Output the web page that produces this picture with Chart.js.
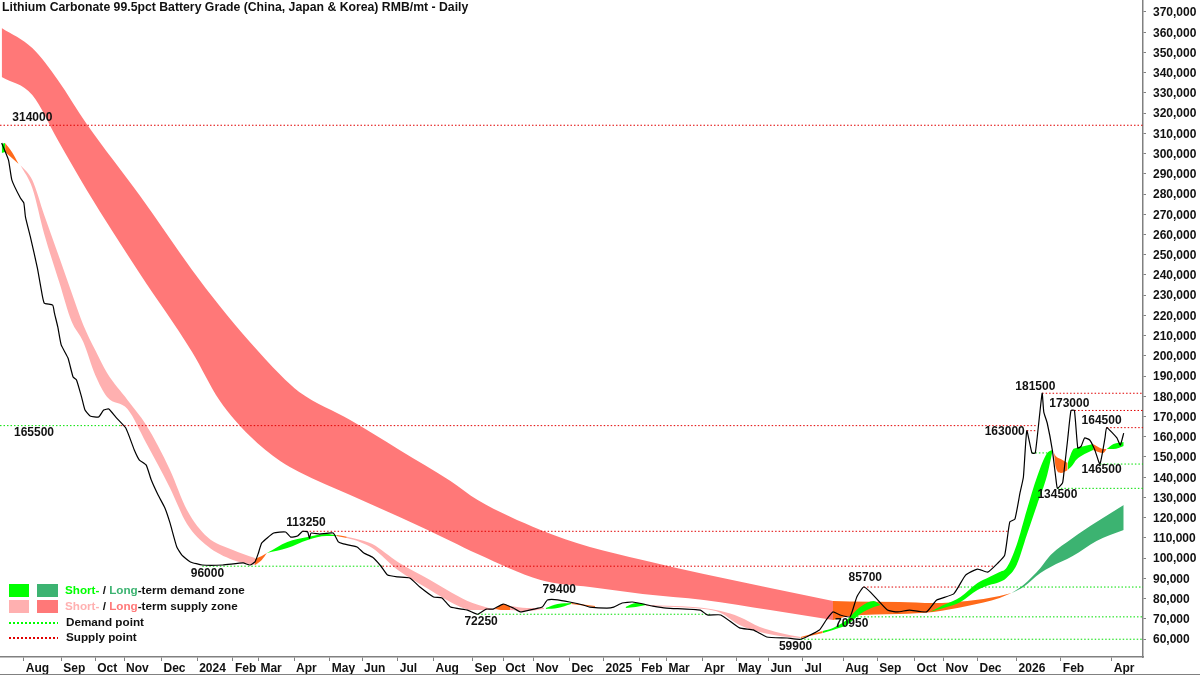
<!DOCTYPE html>
<html>
<head>
<meta charset="utf-8">
<title>Lithium Carbonate</title>
<script src="https://cdn.jsdelivr.net/npm/chart.js@4/dist/chart.umd.min.js"></script>
<style>
  html, body { margin: 0; padding: 0; background: #fff; }
  canvas { display: block; }
</style>
</head>
<body>
<canvas id="lithiumChart" width="1200" height="675"></canvas>
<script>
// x is the trading session number, y is RMB/mt
const titleText = 'Lithium Carbonate 99.5pct Battery Grade (China, Japan & Korea) RMB/mt - Daily';

const monthLabels = ['Aug', 'Sep', 'Oct', 'Nov', 'Dec', '2024', 'Feb', 'Mar', 'Apr', 'May', 'Jun', 'Jul', 'Aug', 'Sep', 'Oct', 'Nov', 'Dec', '2025', 'Feb', 'Mar', 'Apr', 'May', 'Jun', 'Jul', 'Aug', 'Sep', 'Oct', 'Nov', 'Dec', '2026', 'Feb', 'Apr'];
const monthSessions = [14, 36, 56, 73, 95, 116, 137, 152, 173, 194, 213, 234, 255, 278, 296, 314, 335, 355, 376, 392, 413, 433, 452, 472, 496, 516, 538, 555, 575, 598, 624, 654];
const priceTicks = [60000, 70000, 80000, 90000, 100000, 110000, 120000, 130000, 140000, 150000, 160000, 170000, 180000, 190000, 200000, 210000, 220000, 230000, 240000, 250000, 260000, 270000, 280000, 290000, 300000, 310000, 320000, 330000, 340000, 350000, 360000, 370000];

// closing price
const priceSessions = [1, 5, 7, 12, 14, 15, 18, 22, 24, 26, 31, 32, 34, 36, 40, 43, 45, 48, 50, 53, 58, 61, 64, 68, 74, 79, 82, 86, 89, 93, 97, 100, 104, 107, 112, 119, 131, 143, 147, 150, 152, 154, 161, 168, 171, 175, 178, 181, 182, 183, 188, 196, 199, 202, 210, 214, 219, 224, 228, 234, 241, 247, 255, 260, 265, 275, 281, 286, 290, 296, 302, 306, 314, 319, 322, 328, 335, 343, 347, 357, 361, 366, 372, 384, 392, 412, 416, 424, 435, 443, 451, 463, 471, 482, 486, 490, 494, 500, 504, 508, 512, 522, 528, 535, 545, 551, 561, 568, 575, 581, 587, 591, 594, 597, 600, 602, 604, 607, 609, 613, 614, 616, 619, 621, 622, 625, 626, 628, 630, 632, 634, 636, 638, 641, 644, 647, 650, 651, 657, 659, 661];
const priceValues = [305200, 296800, 286900, 278000, 275600, 268600, 258300, 243400, 234000, 226100, 225100, 221200, 214300, 205400, 198900, 189500, 188100, 179600, 173200, 170300, 169800, 173200, 173700, 169800, 164300, 153500, 148500, 146000, 138600, 131200, 124800, 117400, 105500, 101500, 98100, 96600, 96600, 97600, 96600, 98100, 102500, 107500, 112400, 112900, 110400, 110900, 113250, 112900, 109900, 112400, 111900, 112400, 108000, 107000, 105500, 102500, 100500, 96100, 91600, 90700, 90200, 85700, 80800, 80300, 75800, 74300, 72250, 74800, 74800, 77300, 75300, 73400, 74800, 75800, 79300, 79400, 78300, 76800, 75800, 75300, 75800, 77800, 78300, 76300, 75300, 74300, 71900, 71900, 65500, 64500, 61000, 60500, 59900, 64500, 69400, 73400, 71900, 70950, 80800, 85700, 83200, 74300, 73400, 74300, 73400, 79300, 82300, 91600, 94600, 93100, 97600, 101500, 117900, 119300, 132200, 140100, 163000, 152000, 152000, 181500, 172200, 166800, 153500, 140100, 134500, 137100, 143600, 158400, 173000, 173000, 154400, 155400, 159400, 158400, 153500, 146500, 159400, 164500, 159400, 155900, 161800];

// long-term zone
const longSupplySessions = [1, 19, 34, 51, 82, 113, 129, 147, 165, 176, 206, 235, 265, 281, 318, 347, 378, 414, 453, 490];
const longSupplyUpper = [362100, 352200, 336400, 314600, 279500, 242500, 224900, 206800, 190500, 182100, 168300, 153500, 138100, 128700, 113900, 105500, 99100, 92100, 85200, 78800];
const longSupplyLower = [337900, 329000, 306700, 282000, 240900, 201900, 178200, 160400, 147900, 142600, 131200, 120300, 108500, 102000, 89200, 85700, 82300, 79300, 74300, 69400];
const longMixSessions = [490, 500, 529, 549, 569, 588, 595];
const longMixUpper = [78800, 78500, 78300, 77800, 78800, 81300, 82700];
const longMixLower = [69400, 71400, 72400, 73400, 76300, 80300, 82700];
const longDemandSessions = [595, 602, 612, 618, 631, 645, 661];
const longDemandUpper = [82700, 86700, 95100, 101500, 110000, 117900, 126300];
const longDemandLower = [82700, 85700, 92600, 95600, 101000, 108500, 113900];

// short-term zone, one block per colour run
const shortDemand1 = { s: [1, 3], up: [304700, 305200], lo: [300300, 300800] };
const shortMix1 = { s: [3, 7, 11], up: [305200, 300800, 294800], lo: [300800, 297800, 294800] };
const shortSupply1 = {
  s: [12, 19, 26, 35, 42, 49, 56, 63, 75, 86, 100, 110, 122, 137, 150],
  up: [294400, 286900, 269600, 248400, 231600, 215300, 202900, 191500, 178200, 165800, 143600, 123800, 110400, 104000, 100000],
  lo: [294400, 283000, 260200, 236000, 217200, 206800, 190500, 179700, 173700, 156900, 134700, 116900, 106000, 99100, 96600],
};
const shortMix2 = { s: [150, 154, 157], up: [99600, 101000, 102500], lo: [96600, 99100, 102500] };
const shortDemand2 = { s: [157, 169, 181, 192, 198], up: [102500, 108000, 110400, 111900, 111400], lo: [102500, 105000, 109000, 110900, 110900] };
const shortMix8 = { s: [198, 204], up: [111400, 110600], lo: [110900, 109900] };
const shortSupply2 = {
  s: [204, 212, 219, 234, 253, 266, 278, 292],
  up: [110600, 109000, 107000, 98100, 89200, 82800, 77800, 74300],
  lo: [109900, 107900, 105000, 94100, 84200, 77800, 74300, 74300],
};
const shortMix3 = { s: [291, 296, 300], up: [74800, 77300, 76300], lo: [74800, 74300, 74300] };
const shortSupply3 = { s: [300, 310, 320], up: [76300, 75300, 75300], lo: [74300, 73800, 74800] };
const shortDemand3 = { s: [321, 328, 336], up: [75300, 77300, 77800], lo: [74800, 75300, 77300] };
const shortMix4 = { s: [336, 350], up: [77800, 76300], lo: [77300, 75800] };
const shortDemand4 = { s: [368, 374, 380], up: [75800, 77800, 77300], lo: [75300, 75800, 76800] };
const shortSupply4 = {
  s: [380, 397, 414, 424, 435, 447, 459, 471],
  up: [76800, 76300, 75300, 73800, 70900, 65900, 63000, 61000],
  lo: [76300, 75800, 74800, 72900, 66900, 63500, 61500, 60500],
};
const shortMix5 = { s: [471, 484], up: [61000, 64000], lo: [60500, 63000] };
const shortDemand5 = { s: [484, 490, 498, 506, 514, 518], up: [64000, 65500, 69400, 75800, 78800, 76800], lo: [63000, 64500, 66900, 72400, 75800, 76800] };
const shortDemand6 = {
  s: [547, 555, 565, 575, 582, 588, 592, 598, 604, 610, 616, 619],
  up: [73400, 76800, 80800, 87700, 90700, 93100, 95100, 106500, 123800, 140100, 152000, 153500],
  lo: [73400, 75300, 78300, 84200, 86700, 88200, 90200, 96600, 111400, 126300, 141100, 152500],
};
const shortMix6 = { s: [620, 621, 624, 628], up: [152000, 150500, 149000, 147000], lo: [152000, 145000, 142100, 143500] };
const shortDemand7 = { s: [628, 631, 633, 638, 643], up: [147000, 153500, 154400, 155400, 156400], lo: [143500, 146000, 148500, 151500, 153500] };
const shortMix7 = { s: [643, 646, 649, 651], up: [156400, 154900, 153900, 153900], lo: [153500, 152500, 152000, 153900] };
const shortDemand8 = { s: [651, 655, 661], up: [153900, 156400, 157400], lo: [153900, 153900, 155400] };

// dotted levels: level, first session, last session
const supplyLevels = [
  [314000, 0, 673], [165500, 71, 610], [163000, 604, 610], [181500, 613, 673], [173000, 630, 673],
  [164500, 651, 673], [113250, 178, 593], [96000, 225, 585], [85700, 508, 565],
];
const demandLevels = [
  [165500, 0, 71], [96000, 119, 225], [85700, 565, 673], [72250, 281, 418], [70950, 500, 673],
  [59900, 471, 673], [134500, 622, 673], [146500, 647, 673], [152000, 607, 616],
];

// price callouts
const calloutLevels = [314000, 165500, 96000, 113250, 72250, 79400, 59900, 70950, 85700, 163000, 181500, 173000, 164500, 146500, 134500];
const calloutSessions = [19, 20, 122, 180, 283, 329, 468, 501, 509, 591, 609, 629, 648, 648, 622];
const calloutLift = [-8, 7, 7, -9, 7, -10, 7, 7, -9, 1, -7, -7, -7, 6, 6];

const colors = {
  demandShort: '#00ff00',
  demandLong: '#3cb371',
  supplyShort: '#ffb0b0',
  supplyLong: '#ff7878',
  mix: '#ff6a1a',
  demandLine: '#00e000',
  supplyLine: '#e00000',
  axis: '#808080',
  text: '#111111',
};
const fontFamily = '"Liberation Sans", Arial, sans-serif';
const textFont = 'bold 12px ' + fontFamily;

const toPoints = (xs, ys) => xs.map((x, i) => ({ x, y: ys[i] }));

function bandDatasets(xs, upper, lower, color) {
  const shared = { borderWidth: 0, pointRadius: 0, cubicInterpolationMode: 'monotone' };
  return [
    { ...shared, data: toPoints(xs, upper), fill: false },
    { ...shared, data: toPoints(xs, lower), fill: '-1', backgroundColor: color },
  ];
}

function levelDatasets(levels, color) {
  return levels.map(([value, from, to]) => ({
    data: [{ x: from, y: value }, { x: to, y: value }],
    borderColor: color,
    borderWidth: 1,
    borderDash: [1.5, 2],
    pointRadius: 0,
    fill: false,
  }));
}

const shortBlocks = [
  [shortDemand1, colors.demandShort], [shortMix1, colors.mix], [shortSupply1, colors.supplyShort],
  [shortMix2, colors.mix], [shortDemand2, colors.demandShort], [shortMix8, colors.mix], [shortSupply2, colors.supplyShort],
  [shortMix3, colors.mix], [shortSupply3, colors.supplyShort], [shortDemand3, colors.demandShort],
  [shortMix4, colors.mix], [shortDemand4, colors.demandShort], [shortSupply4, colors.supplyShort],
  [shortMix5, colors.mix], [shortDemand5, colors.demandShort], [shortDemand6, colors.demandShort],
  [shortMix6, colors.mix], [shortDemand7, colors.demandShort], [shortMix7, colors.mix], [shortDemand8, colors.demandShort],
];

// first dataset ends up on top
const datasets = [
  { data: toPoints(priceSessions, priceValues), borderColor: '#000000', borderWidth: 1.2, pointRadius: 0, fill: false, tension: 0.15 },
  ...levelDatasets(supplyLevels, colors.supplyLine),
  ...levelDatasets(demandLevels, colors.demandLine),
  ...shortBlocks.flatMap(([b, color]) => bandDatasets(b.s, b.up, b.lo, color)),
  ...bandDatasets(longMixSessions, longMixUpper, longMixLower, colors.mix),
  ...bandDatasets(longDemandSessions, longDemandUpper, longDemandLower, colors.demandLong),
  ...bandDatasets(longSupplySessions, longSupplyUpper, longSupplyLower, colors.supplyLong),
];

// title, callouts, legend block and the image frame line
const annotationPlugin = {
  id: 'annotationPlugin',
  afterDraw(chart) {
    const { ctx, scales } = chart;
    ctx.save();
    ctx.fillStyle = colors.text;
    ctx.textBaseline = 'middle';

    ctx.textAlign = 'left';
    ctx.font = 'bold 12.25px ' + fontFamily;
    ctx.fillText(titleText, 2, 8);

    ctx.font = textFont;
    ctx.textAlign = 'center';
    calloutLevels.forEach((level, i) => {
      const x = scales.x.getPixelForValue(calloutSessions[i]);
      const y = scales.y.getPixelForValue(level) + calloutLift[i];
      ctx.fillText(String(level), x, y);
    });

    ctx.fillStyle = colors.demandShort;
    ctx.fillRect(9, 584, 20, 13);
    ctx.fillStyle = colors.demandLong;
    ctx.fillRect(37, 584, 21, 13);
    ctx.fillStyle = colors.supplyShort;
    ctx.fillRect(9, 600, 20, 13);
    ctx.fillStyle = colors.supplyLong;
    ctx.fillRect(37, 600, 21, 13);

    ctx.lineWidth = 2;
    ctx.setLineDash([2, 2]);
    ctx.strokeStyle = colors.demandShort;
    ctx.beginPath(); ctx.moveTo(9, 623); ctx.lineTo(58, 623); ctx.stroke();
    ctx.strokeStyle = colors.supplyLine;
    ctx.beginPath(); ctx.moveTo(9, 638); ctx.lineTo(58, 638); ctx.stroke();
    ctx.setLineDash([]);

    ctx.textAlign = 'left';
    ctx.font = 'bold 11.7px ' + fontFamily;
    const writeRuns = (runs, x, y) => {
      runs.forEach(([text, color]) => {
        ctx.fillStyle = color;
        ctx.fillText(text, x, y);
        x += ctx.measureText(text).width;
      });
    };
    writeRuns([['Short-', colors.demandShort], [' / ', colors.text], ['Long', colors.demandLong], ['-term demand zone', colors.text]], 65, 591);
    writeRuns([['Short-', colors.supplyShort], [' / ', colors.text], ['Long', colors.supplyLong], ['-term supply zone', colors.text]], 65, 607);
    writeRuns([['Demand point', colors.text]], 66, 623);
    writeRuns([['Supply point', colors.text]], 66, 638);

    ctx.strokeStyle = colors.axis;
    ctx.lineWidth = 1;
    ctx.beginPath(); ctx.moveTo(0, 674.5); ctx.lineTo(1200, 674.5); ctx.stroke();
    ctx.restore();
  },
};

new Chart(document.getElementById('lithiumChart'), {
  type: 'line',
  data: { datasets },
  plugins: [annotationPlugin],
  options: {
    responsive: false,
    animation: false,
    devicePixelRatio: 1,
    layout: { padding: 0 },
    plugins: {
      legend: { display: false },
      title: { display: false },
      tooltip: { enabled: false },
    },
    scales: {
      x: {
        type: 'linear',
        min: 0,
        max: 672.35,
        afterFit: (scale) => { scale.height = 18; scale.paddingLeft = 0; scale.paddingRight = 0; },
        afterBuildTicks: (scale) => { scale.ticks = monthSessions.map((value) => ({ value })); },
        border: { color: colors.axis, width: 1.5 },
        grid: { drawOnChartArea: false, color: colors.axis, tickLength: 4 },
        ticks: {
          autoSkip: false,
          maxRotation: 0,
          align: 'start',
          labelOffset: 2,
          padding: 0,
          color: colors.text,
          font: { family: fontFamily, size: 12, weight: 'bold' },
          callback: (value, index) => monthLabels[index],
        },
      },
      y: {
        position: 'right',
        type: 'linear',
        min: 51110,
        max: 375930,
        afterFit: (scale) => { scale.width = 57; scale.paddingTop = 0; scale.paddingBottom = 0; },
        afterBuildTicks: (scale) => { scale.ticks = priceTicks.map((value) => ({ value })); },
        border: { color: colors.axis, width: 1.5 },
        grid: { drawOnChartArea: false, color: colors.axis, tickLength: 3 },
        ticks: {
          autoSkip: false,
          padding: 7,
          labelOffset: 1,
          color: colors.text,
          font: { family: fontFamily, size: 12, weight: 'bold' },
          callback: (value) => value.toLocaleString('en-US'),
        },
      },
    },
  },
});
</script>
</body>
</html>
